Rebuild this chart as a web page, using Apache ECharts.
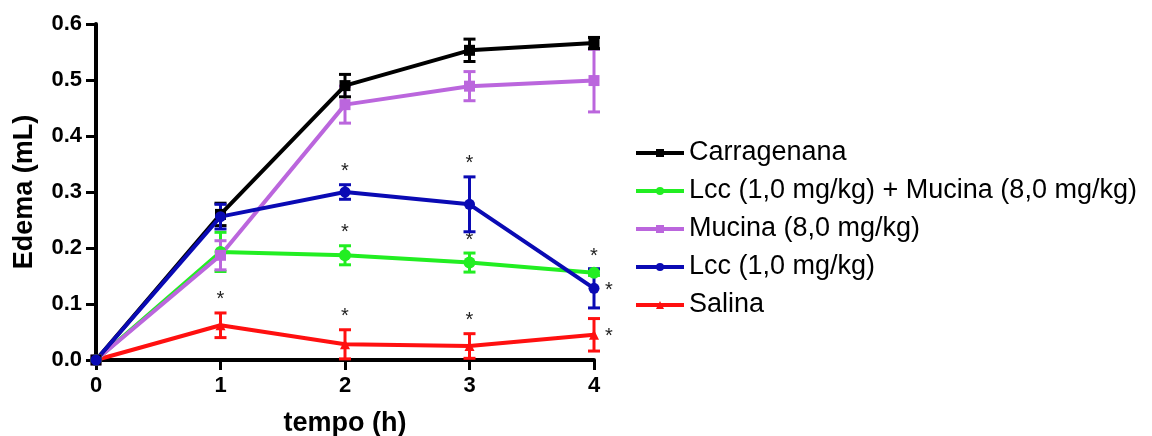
<!DOCTYPE html>
<html>
<head>
<meta charset="utf-8">
<script src="https://cdn.jsdelivr.net/npm/echarts@6/dist/echarts.min.js"></script>
<style>
  html, body { margin: 0; padding: 0; background: #fff; }
  #chart { width: 1152px; height: 436px; }
</style>
</head>
<body>
<div id="chart"></div>
<script>
// Paw edema over time (mean ± SEM), one array per group
const hours = [0, 1, 2, 3, 4];

const carragenanaMean = [0, 0.260, 0.490, 0.553, 0.566];
const carragenanaSem  = [0, 0.020, 0.020, 0.020, 0.010];
const carragenanaSig  = ['', '', '', '', ''];

const lccMucinaMean = [0, 0.193, 0.187, 0.174, 0.156];
const lccMucinaSem  = [0, 0.035, 0.017, 0.017, 0.005];
const lccMucinaSig  = ['', '', 'top', 'top', 'top'];

const mucinaMean = [0, 0.187, 0.456, 0.489, 0.499];
const mucinaSem  = [0, 0.026, 0.033, 0.026, 0.056];
const mucinaSig  = ['', '', '', '', ''];

const lccMean = [0, 0.256, 0.300, 0.278, 0.128];
const lccSem  = [0, 0.022, 0.013, 0.049, 0.035];
const lccSig  = ['', '', 'top', 'top', 'right'];

const salinaMean = [0, 0.062, 0.028, 0.025, 0.045];
const salinaSem  = [0, 0.022, 0.026, 0.022, 0.029];
const salinaSig  = ['', 'top', 'top', 'top', 'right'];

const groupNames = [
  'Carragenana',
  'Lcc (1,0 mg/kg) + Mucina (8,0 mg/kg)',
  'Mucina (8,0 mg/kg)',
  'Lcc (1,0 mg/kg)',
  'Salina'
];
const yTicks = [0, 0.1, 0.2, 0.3, 0.4, 0.5, 0.6];
const xTicks = [0, 1, 2, 3, 4];

const groups = [
  { name: groupNames[4], mean: salinaMean, sem: salinaSem, sig: salinaSig, color: '#ff1010', symbol: 'triangle', size: 10 },
  { name: groupNames[1], mean: lccMucinaMean, sem: lccMucinaSem, sig: lccMucinaSig, color: '#22ee22', symbol: 'circle', size: 12 },
  { name: groupNames[2], mean: mucinaMean, sem: mucinaSem, sig: mucinaSig, color: '#bb66dd', symbol: 'rect', size: 11 },
  { name: groupNames[0], mean: carragenanaMean, sem: carragenanaSem, sig: carragenanaSig, color: '#000000', symbol: 'rect', size: 11 },
  { name: groupNames[3], mean: lccMean, sem: lccSem, sig: lccSig, color: '#0a0ab4', symbol: 'circle', size: 11 }
];

function errorBarRenderer(color) {
  return function (params, api) {
    const x = api.value(0);
    const lo = api.value(1);
    const hi = api.value(2);
    const m = api.value(4);
    const sig = api.value(3);
    const pLo = api.coord([x, lo]);
    const pHi = api.coord([x, hi]);
    const pM = api.coord([x, m]);
    const cap = 6;
    const style = { stroke: color, lineWidth: 3 };
    const children = [];
    if (hi > lo) {
      children.push(
        { type: 'line', shape: { x1: pLo[0], y1: pLo[1], x2: pHi[0], y2: pHi[1] }, style },
        { type: 'line', shape: { x1: pHi[0] - cap, y1: pHi[1], x2: pHi[0] + cap, y2: pHi[1] }, style },
        { type: 'line', shape: { x1: pLo[0] - cap, y1: pLo[1], x2: pLo[0] + cap, y2: pLo[1] }, style }
      );
    }
    const starFont = '20px "Liberation Sans", Arial';
    if (sig === 'top') {
      children.push({ type: 'text', style: { text: '*', x: pHi[0], y: pHi[1] - 3, textAlign: 'center', textVerticalAlign: 'bottom', font: starFont, fill: '#222' } });
    } else if (sig === 'right') {
      children.push({ type: 'text', style: { text: '*', x: pM[0] + 11, y: pM[1] + 2, textAlign: 'left', textVerticalAlign: 'middle', font: starFont, fill: '#222' } });
    }
    return { type: 'group', children };
  };
}

// line series first so the legend takes its icon from them
const lineSeries = [];
const barSeries = [];
groups.forEach(g => {
  lineSeries.push({
    name: g.name,
    type: 'line',
    data: hours.map((h, i) => [h, g.mean[i]]),
    symbol: g.symbol,
    symbolSize: g.size,
    showAllSymbol: true,
    itemStyle: { color: g.color },
    lineStyle: { color: g.color, width: 4 },
    z: 3
  });
  barSeries.push({
    name: g.name,
    type: 'custom',
    renderItem: errorBarRenderer(g.color),
    encode: { x: 0, y: [1, 2] },
    itemStyle: { color: g.color },
    data: hours.map((h, i) => [h, g.mean[i] - g.sem[i], g.mean[i] + g.sem[i], g.sig[i], g.mean[i]]),
    silent: true,
    z: 2
  });
});

const chart = echarts.init(document.getElementById('chart'), null, { renderer: 'canvas' });
chart.setOption({
  animation: false,
  backgroundColor: '#ffffff',
  grid: { left: 96, right: 558, top: 24, bottom: 76, containLabel: false, outerBoundsMode: 'none' },
  legend: {
    orient: 'vertical',
    left: 629,
    top: 133,
    itemWidth: 48,
    itemHeight: 10,
    itemGap: 8,
    data: groupNames,
    lineStyle: { width: 4 },
    textStyle: { fontFamily: '"Liberation Sans", Arial', fontSize: 27, color: '#000', lineHeight: 30 },
    selectedMode: false
  },
  xAxis: {
    type: 'value',
    min: xTicks[0],
    max: xTicks[xTicks.length - 1],
    interval: 1,
    name: 'tempo (h)',
    nameLocation: 'middle',
    nameGap: 50,
    nameTextStyle: { fontFamily: '"Liberation Sans", Arial', fontWeight: 'bold', fontSize: 27, color: '#000' },
    axisLine: { lineStyle: { color: '#000', width: 4 } },
    axisTick: { show: true, length: 10, lineStyle: { color: '#000', width: 3 } },
    axisLabel: { fontFamily: '"Liberation Sans", Arial', fontWeight: 'bold', fontSize: 22, color: '#000', margin: 15 },
    splitLine: { show: false }
  },
  yAxis: {
    type: 'value',
    min: yTicks[0],
    max: yTicks[yTicks.length - 1],
    interval: 0.1,
    name: 'Edema (mL)',
    nameLocation: 'middle',
    nameGap: 58,
    nameRotate: 90,
    nameTextStyle: { fontFamily: '"Liberation Sans", Arial', fontWeight: 'bold', fontSize: 27, color: '#000' },
    axisLine: { show: true, lineStyle: { color: '#000', width: 4 } },
    axisTick: { show: true, length: 10, lineStyle: { color: '#000', width: 3 } },
    axisLabel: { fontFamily: '"Liberation Sans", Arial', fontWeight: 'bold', fontSize: 22, color: '#000', margin: 14, formatter: v => v.toFixed(1) },
    splitLine: { show: false }
  },
  series: lineSeries.concat(barSeries)
});
</script>
</body>
</html>
